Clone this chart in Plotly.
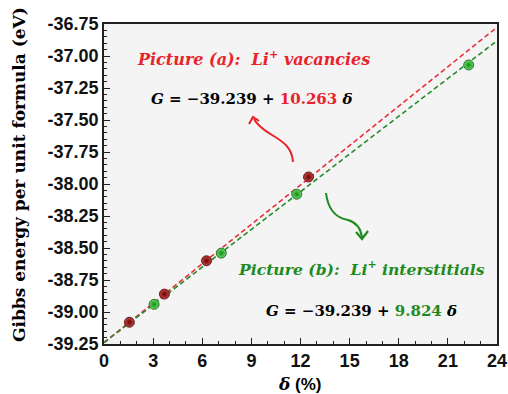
import plotly.graph_objects as go

# ---- data ----
vac_delta = [1.55, 3.69, 6.26, 12.49]
vac_G = [-39.08, -38.86, -38.60, -37.945]
int_delta = [3.06, 7.16, 11.77, 22.27]
int_G = [-38.94, -38.54, -38.08, -37.07]
fit_intercept = -39.239
vac_slope = 10.263
int_slope = 9.824
fit_delta = [0, 24]
x_ticks = [0, 3, 6, 9, 12, 15, 18, 21, 24]
y_ticks = [-39.25, -39.00, -38.75, -38.50, -38.25, -38.00, -37.75, -37.50, -37.25, -37.00, -36.75]

RED = "#e8232b"
GREEN = "#1f8a1f"

# plot-area pixel geometry (for annotation placement)
L, R, T, B = 104, 497, 24, 344
W, H = 508, 394
X0, X1, Y0, Y1 = 0, 24, -39.25, -36.75

def px2d(px, py):
    return (X0 + (px - L) / (R - L) * (X1 - X0), Y1 - (py - T) / (B - T) * (Y1 - Y0))

fig = go.Figure()

vac_fit = [fit_intercept + vac_slope * d / 100 for d in fit_delta]
int_fit = [fit_intercept + int_slope * d / 100 for d in fit_delta]
fig.add_trace(go.Scatter(x=fit_delta, y=vac_fit, mode="lines",
                         line=dict(color="#e8303a", width=1.6, dash="5px,3px"), hoverinfo="skip"))
fig.add_trace(go.Scatter(x=fit_delta, y=int_fit, mode="lines",
                         line=dict(color="#2a8a2a", width=1.6, dash="5px,3px"), hoverinfo="skip"))
fig.add_trace(go.Scatter(x=vac_delta, y=vac_G, mode="markers",
                         marker=dict(size=10, color="#c04848", gradient=dict(type="radial", color="#6e0000"),
                                     line=dict(color="#4a0000", width=0.8))))
fig.add_trace(go.Scatter(x=int_delta, y=int_G, mode="markers",
                         marker=dict(size=10, color="#6ad86a", gradient=dict(type="radial", color="#138a13"),
                                     line=dict(color="#0b5a0b", width=0.8))))

def curve_path(pts):
    d = [px2d(*p) for p in pts]
    s = f"M {d[0][0]},{d[0][1]}"
    i = 1
    while i + 2 <= len(d) - 1:
        s += f" C {d[i][0]},{d[i][1]} {d[i+1][0]},{d[i+1][1]} {d[i+2][0]},{d[i+2][1]}"
        i += 3
    return s

# curved arrows (pixel control points)
red_pts = [(293, 162), (292, 148), (284, 142), (272, 135), (262, 129), (257, 125), (254, 119)]
green_pts = [(326, 193), (328, 210), (336, 218), (348, 220), (358, 223), (361, 230), (362, 237)]
fig.add_shape(type="path", path=curve_path(red_pts), line=dict(color=RED, width=2))
fig.add_shape(type="path", path=curve_path(green_pts), line=dict(color=GREEN, width=2))

def vhead(tip, a, b):
    t, p, q = px2d(*tip), px2d(*a), px2d(*b)
    return f"M {p[0]},{p[1]} L {t[0]},{t[1]} L {q[0]},{q[1]}"

fig.add_shape(type="path", path=vhead((253, 117), (249, 124), (259, 121)), line=dict(color=RED, width=2))
fig.add_shape(type="path", path=vhead((362, 239), (356, 232), (368, 231)), line=dict(color=GREEN, width=2.2))

SER = "DejaVu Serif"
def ann(px, py, text, size=14, color="black", anchor="left"):
    x, y = px2d(px, py)
    fig.add_annotation(x=x, y=y, xref="x", yref="y", text=text, showarrow=False,
                       xanchor=anchor, yanchor="middle",
                       font=dict(family=SER, size=size, color=color, weight="bold"))

ann(135, 58, "<i>Picture (a):  Li<sup>+</sup> vacancies</i>", 16, RED)
ann(149, 99, f"<i>G</i> = −39.239 + <span style='color:{RED}'>{vac_slope:.3f}</span> <i>δ</i>", 15)
ann(236, 268, "<i>Picture (b):  Li<sup>+</sup> interstitials</i>", 15.6, GREEN)
ann(264, 311, f"<i>G</i> = −39.239 + <span style='color:{GREEN}'>{int_slope:.3f}</span> <i>δ</i>", 15)

# axis titles
fig.add_annotation(x=-85 / (R - L), y=(B - 175) / (B - T), xref="paper", yref="paper", textangle=-90,
                   text="Gibbs energy per unit formula (eV)", showarrow=False,
                   xanchor="center", yanchor="middle",
                   font=dict(family=SER, size=17, color="black", weight="bold"))
fig.add_annotation(x=(300 - L) / (R - L), y=-40 / (B - T), xref="paper", yref="paper",
                   text="<span style='font-family:DejaVu Serif'><i>δ</i></span> (%)", showarrow=False,
                   xanchor="center", yanchor="middle",
                   font=dict(family="Liberation Sans", size=17, color="black", weight="bold"))

axis_common = dict(showline=True, linecolor="#222", linewidth=1.6, mirror=True,
                   ticks="inside", tickcolor="#222", showgrid=False, zeroline=False, automargin=False,
                   tickfont=dict(family="Liberation Sans", size=18, color="#111", weight="bold"))
fig.update_xaxes(range=[X0, X1], tickvals=x_ticks, ticklen=6, tickwidth=1.4,
                 minor=dict(dtick=1, ticks="inside", ticklen=3, tickcolor="#222", tickwidth=1),
                 **axis_common)
fig.update_yaxes(range=[Y0, Y1], tickvals=y_ticks, ticktext=[f"{v:.2f}" for v in y_ticks],
                 ticklen=6, tickwidth=1.4,
                 minor=dict(dtick=0.05, tick0=-39.25, ticks="inside", ticklen=3, tickcolor="#222", tickwidth=1),
                 **axis_common)

fig.update_layout(width=W, height=H, showlegend=False,
                  margin=dict(l=L, r=W - R, t=T, b=H - B),
                  plot_bgcolor="#f4f4f4", paper_bgcolor="white")

fig.write_html("out.html", config={"displayModeBar": False},
               post_script="document.body.style.margin='0';document.body.style.overflow='hidden';")
